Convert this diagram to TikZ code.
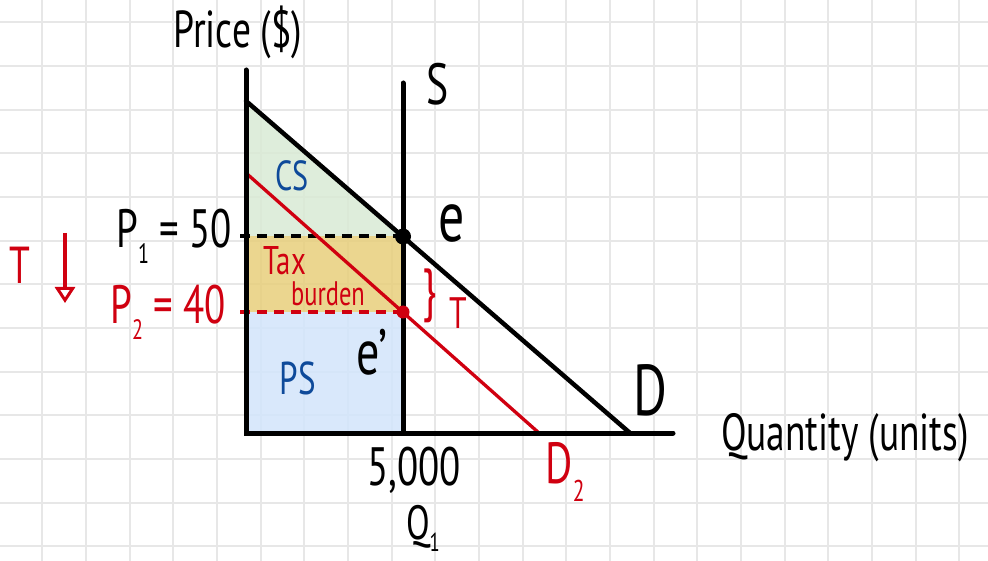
\documentclass[tikz,border=0pt]{standalone}
\usepackage{fontspec}
\setmainfont{PT Sans}[FakeStretch=0.72]
\usetikzlibrary{arrows.meta}
\definecolor{gridc}{HTML}{E7E7E7}
\definecolor{csfill}{HTML}{D9EAD5}
\definecolor{taxfill}{HTML}{E8CF7C}
\definecolor{psfill}{HTML}{D3E5FB}
\definecolor{redc}{HTML}{D00010}
\definecolor{bluec}{HTML}{0E4A9A}
\newcommand{\fs}[1]{\fontsize{#1}{#1}\selectfont}
\newcommand{\sub}[2]{\raisebox{-0.3em}{\fs{#1}#2}}
\tikzset{
  gridline/.style={gridc, line width=2pt},
  axisline/.style={black, line width=5pt, line cap=round},
  curveblack/.style={black, line width=4.5pt, line cap=round},
  curvered/.style={redc, line width=3.3pt, line cap=round},
  dashblack/.style={black, line width=4pt, dash pattern=on 10pt off 7pt},
  dashred/.style={redc, line width=3.5pt, dash pattern=on 10pt off 7pt},
  lbl/.style={inner sep=0pt, outer sep=0pt},
  areafill/.style={fill opacity=0.85}
}
\begin{document}
\begin{tikzpicture}[x=1pt,y=-1pt]
\useasboundingbox (0,0) rectangle (988,561);
\fill[white] (0,0) rectangle (988,561);
% grid
\foreach \k in {0,...,23} {
  \draw[gridline] ({-1.37+43.67*\k},0) -- ({-1.37+43.67*\k},561);
}
\foreach \k in {0,...,13} {
  \draw[gridline] (0,{22.3+43.67*\k}) -- (988,{22.3+43.67*\k});
}
% key points
\coordinate (O) at (246,433);
\coordinate (Ytop) at (246,70);
\coordinate (Xend) at (673,433);
\coordinate (Stop) at (403,83);
\coordinate (Sbot) at (403,433);
\coordinate (Dtop) at (246,101);
\coordinate (Dbot) at (630,433);
\coordinate (D2top) at (246,173);
\coordinate (D2bot) at (539,433);
\coordinate (E) at (403,236.5);
\coordinate (Ep) at (403,312);
\coordinate (P1) at (246,236.5);
\coordinate (P2) at (246,312);
\coordinate (P1t) at (240,236.5);
\coordinate (P2t) at (240,312);
% areas
\fill[csfill, areafill] (Dtop) -- (E) -- (P1) -- cycle;
\fill[taxfill, areafill] (P1) rectangle (Ep);
\fill[psfill, areafill] (P2) rectangle (Sbot);
% dashed price lines
\draw[dashblack] (P1t) -- (E);
\draw[dashred] (P2t) -- (Ep);
% curves
\draw[curvered] (D2top) -- (D2bot);
\draw[curveblack] (Dtop) -- (Dbot);
\draw[axisline] (Stop) -- (Sbot);
\draw[axisline] (Ytop) -- (O) -- (Xend);
% dots
\fill[black] (E) circle (8);
\fill[redc] (Ep) circle (6.5);
% labels
\node[lbl] (price) at (238,32) {\fs{52}Price (\$)};
\node[lbl] (slbl) at (438,84) {\fs{58}S};
\node[lbl] (elbl) at (452,224) {\fs{72}e};
\node[lbl] (eplbl) at (372,352) {\fs{64}e'};
\node[lbl] (dlbl) at (650,390) {\fs{72}D};
\node[lbl] (qlbl) at (845,438) {\fs{52}Quantity (units)};
\node[lbl] (q5000) at (414,470) {\fs{54}5,000};
\node[lbl] (q1) at (423,528) {\fs{48}Q\raisebox{-0.25em}{\fs{26}1}};
\node[lbl, redc] (d2lbl) at (565,472) {\fs{58}D\sub{30}{2}};
\node[lbl, anchor=east] (p1lbl) at (232,236) {\fs{54}P\sub{28}{1} = 50};
\node[lbl, anchor=east, redc] (p2lbl) at (226,312) {\fs{54}P\sub{28}{2} = 40};
\node[lbl, redc] (tleft) at (20,265) {\fs{52}T};
\coordinate (arrtop) at (65,233);
\coordinate (arrbot) at (65,303);
\draw[redc, line width=3.5pt, -{Triangle[open, length=16pt, width=20pt, line width=3pt]}] (arrtop) -- (arrbot);
\node[lbl, redc] (tax) at (285,261) {\fs{40}Tax};
\node[lbl, redc] (burden) at (328,294) {\fs{34}burden};
\node[lbl, bluec] (cs) at (292,176) {\fs{42}CS};
\node[lbl, bluec] (ps) at (298,378) {\fs{46}PS};
\node[lbl, redc] (brace) at (430,296) {\fs{58}\}};
\node[lbl, redc] (tright) at (458,313) {\fs{44}T};
\end{tikzpicture}
\end{document}
